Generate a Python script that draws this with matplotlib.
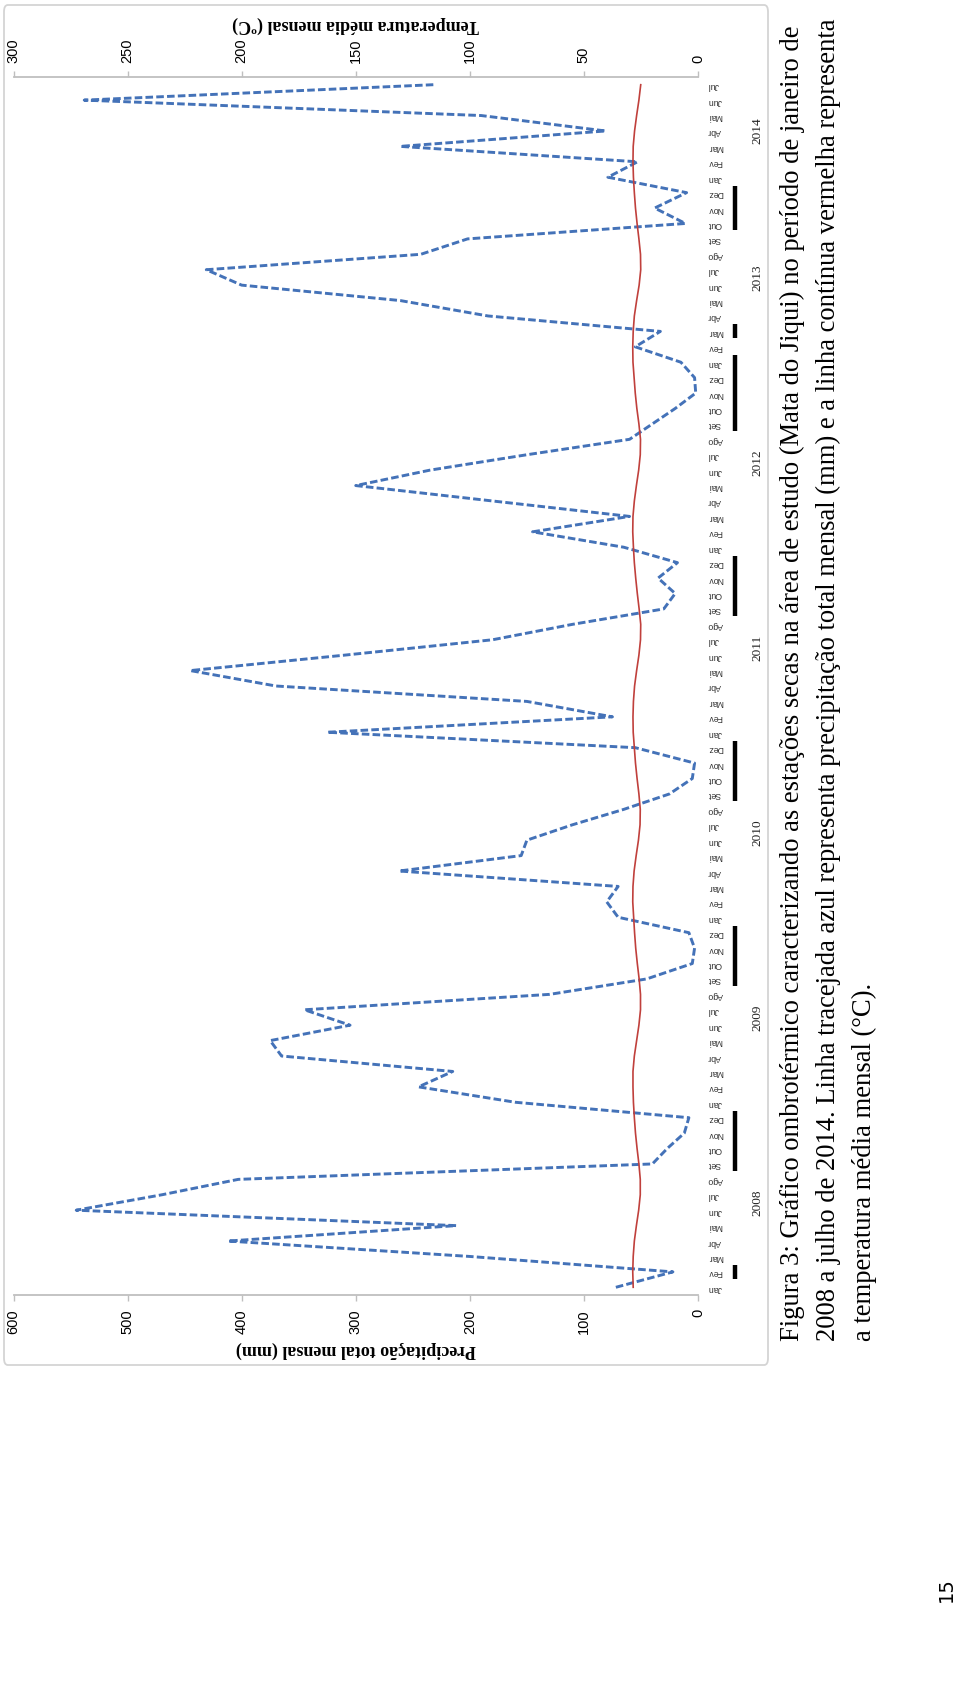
import matplotlib
matplotlib.use("Agg")
import matplotlib.pyplot as plt
from matplotlib.transforms import blended_transform_factory
from matplotlib.patches import FancyBboxPatch

# ---------------- data ----------------
months = ["Jan", "Fev", "Mar", "Abr", "Mai", "Jun", "Jul", "Ago", "Set", "Out", "Nov", "Dez"]
years = [2008, 2009, 2010, 2011, 2012, 2013, 2014]
month_labels = months * 6 + months[:7]

precip = [
    72, 22, 200, 412, 212, 545, 470, 403, 40, 27, 12, 8,        # 2008
    160, 245, 215, 365, 375, 305, 345, 130, 45, 5, 3, 8,        # 2009
    70, 80, 70, 262, 155, 150, 110, 65, 25, 5, 3, 55,           # 2010
    325, 75, 150, 370, 445, 310, 180, 110, 30, 20, 35, 18,      # 2011
    65, 145, 60, 180, 300, 235, 150, 60, 40, 20, 2, 3,          # 2012
    15, 55, 33, 184, 261, 400, 431, 243, 202, 11, 38, 10,       # 2013
    79, 53, 261, 81, 190, 538, 232,                             # 2014
]
temperature = [
    28.4, 28.6, 28.4, 27.9, 27.0, 26.0, 25.3, 25.3, 25.9, 26.7, 27.4, 27.9,
    28.3, 28.5, 28.5, 27.9, 26.9, 25.9, 25.2, 25.2, 25.8, 26.6, 27.3, 27.8,
    28.2, 28.6, 28.5, 28.0, 27.1, 26.1, 25.4, 25.3, 25.9, 26.7, 27.4, 27.9,
    28.4, 28.5, 28.3, 27.8, 26.9, 25.9, 25.2, 25.1, 25.8, 26.6, 27.3, 27.9,
    28.3, 28.6, 28.5, 27.9, 27.0, 26.0, 25.3, 25.2, 25.9, 26.8, 27.5, 28.0,
    28.5, 28.6, 28.4, 27.9, 26.9, 25.8, 25.1, 25.2, 25.9, 26.7, 27.4, 27.9,
    28.3, 28.5, 28.4, 27.8, 26.9, 25.9, 25.1,
]
dry_runs = [("Fev", 2008, "Fev", 2008), ("Set", 2008, "Dez", 2008),
            ("Set", 2009, "Dez", 2009), ("Set", 2010, "Dez", 2010),
            ("Set", 2011, "Dez", 2011), ("Set", 2012, "Jan", 2013),
            ("Mar", 2013, "Mar", 2013), ("Out", 2013, "Dez", 2013)]

caption = [
    "Figura 3: Gráfico ombrotérmico caracterizando as estações secas na área de estudo (Mata do Jiqui) no período de janeiro de",
    "2008 a julho de 2014. Linha tracejada azul representa precipitação total mensal (mm) e a linha contínua vermelha representa",
    "a temperatura média mensal (°C).",
]

# ---------------- layout helpers ----------------
W, H = 960, 1686
fig = plt.figure(figsize=(W / 100, H / 100), dpi=100)
fig.patch.set_facecolor("white")

def fx(px):
    return px / W

def fy(py):
    return 1 - py / H

# frame of the embedded chart
frame = FancyBboxPatch((fx(4), fy(1365)), fx(768) - fx(4), fy(5) - fy(1365),
                       boxstyle="round,pad=0,rounding_size=0.004",
                       transform=fig.transFigure, facecolor="none",
                       edgecolor="#d4d4d4", lw=1.3, zorder=-5)
fig.patches.append(frame)

L, R, T, B = 13.5, 698, 77, 1295
ax = fig.add_axes([fx(L), fy(B), fx(R) - fx(L), fy(T) - fy(B)])
ax.set_facecolor("none")
idx = list(range(len(precip)))

blue = "#4472b8"
red = "#c0403c"
grey = "#bfbfbf"

ax.plot(precip, idx, color=blue, lw=2.1, ls=(0, (2.6, 1.1)), zorder=3)
ax.set_xlim(600, 0)
ax.set_ylim(-0.5, len(precip) - 0.5)

ax2 = ax.twiny()
ax2.set_facecolor("none")
ax2.plot(temperature, idx, color=red, lw=1.2, zorder=4)
ax2.set_xlim(300, 0)

for a in (ax, ax2):
    for s in a.spines.values():
        s.set_visible(False)
ax.spines["bottom"].set_visible(True)
ax.spines["bottom"].set_color(grey)
ax.spines["bottom"].set_linewidth(1.3)
ax2.spines["top"].set_visible(True)
ax2.spines["top"].set_color(grey)
ax2.spines["top"].set_linewidth(1.3)

tick_font = dict(family="Liberation Sans", size=10.5)
ax.set_xticks(range(0, 601, 100))
ax.set_xticklabels([str(v) for v in range(0, 601, 100)], rotation=90, **tick_font)
ax.tick_params(axis="x", bottom=True, top=False, color=grey, length=4, width=1, pad=6)
ax2.set_xticks(range(0, 301, 50))
ax2.set_xticklabels([str(v) for v in range(0, 301, 50)], rotation=90, **tick_font)
ax2.tick_params(axis="x", top=True, bottom=False, color=grey, length=4, width=1, pad=6)

# month labels (category axis, on the right)
ax.yaxis.tick_right()
ax.set_yticks(idx)
ax.set_yticklabels(month_labels, rotation=180, family="Liberation Sans", size=6.3, color="#333333")
ax.tick_params(axis="y", length=0, pad=7)
ax2.tick_params(axis="y", left=False, right=False, labelleft=False, labelright=False)

trans = blended_transform_factory(ax.transAxes, ax.transData)

def xa(px):
    return (px - L) / (R - L)

# year labels
for k, yv in enumerate(years):
    first = k * 12
    last = min(first + 11, len(precip) - 1)
    ax.text(xa(757), (first + last) / 2, str(yv), transform=trans, rotation=90,
            ha="center", va="center", family="Liberation Serif", size=9.5, color="#222222")

# dry-season bars
def mindex(m, y):
    return (y - years[0]) * 12 + months.index(m)

for m0, y0, m1, y1 in dry_runs:
    a0, a1 = mindex(m0, y0), mindex(m1, y1)
    ax.plot([xa(735), xa(735)], [a0 - 0.45, a1 + 0.45], transform=trans, color="black",
            lw=3.2, solid_capstyle="butt", clip_on=False)

# axis titles (rotated with the page)
fig.text(fx((L + R) / 2), fy(1350), "Precipitação total mensal (mm)", rotation=180,
         ha="center", va="center", family="Liberation Serif", weight="bold", size=13)
fig.text(fx((L + R) / 2), fy(25), "Temperatura média mensal (ºC)", rotation=180,
         ha="center", va="center", family="Liberation Serif", weight="bold", size=13)

# caption (rotated text)
for k, line in enumerate(caption):
    fig.text(fx(792 + 36 * k), fy(1341), line, rotation=90, rotation_mode="anchor",
             ha="left", va="center", family="Liberation Serif", size=19.2)

fig.text(fx(946), fy(1602), "15", rotation=90, rotation_mode="anchor", ha="left",
         va="center", family="DejaVu Sans", size=14)

fig.savefig("out.png", dpi=100, facecolor="white")
